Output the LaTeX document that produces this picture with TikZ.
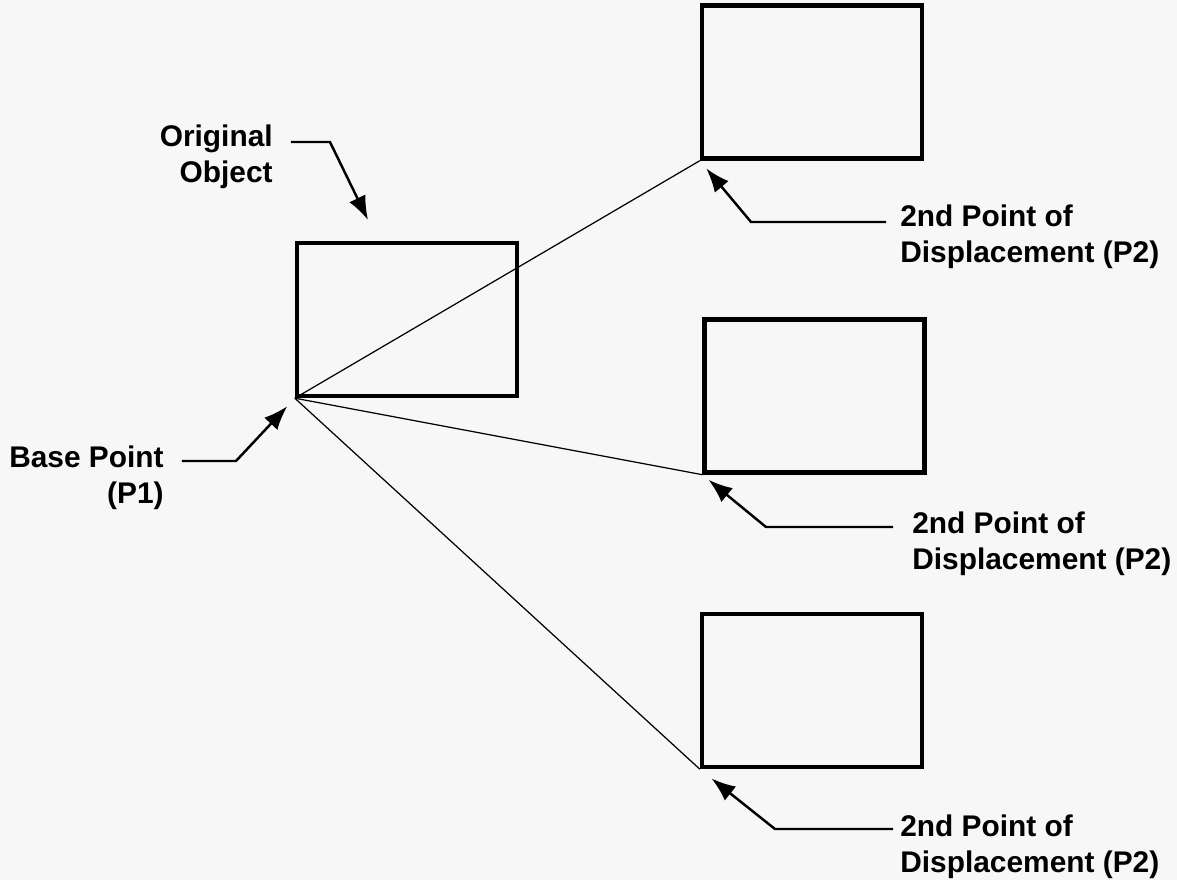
\documentclass[tikz,border=0pt]{standalone}
\usepackage{fontspec}
\setmainfont{Liberation Sans}
\usetikzlibrary{arrows.meta}

\begin{document}
\begin{tikzpicture}[x=0.02cm, y=-0.02cm,
    caja/.style={draw, line width=2.5pt, minimum width=4.4cm, minimum height=3.06cm, inner sep=0pt},
    rotulo/.style={font=\bfseries\fontsize{17}{20.5}\selectfont, inner sep=0pt},
    guia/.style={line width=1.4pt, arrows=-{Latex[length=0.48cm, width=0.36cm]}},
    rayo/.style={line width=0.7pt}]
  \fill [gray!6] (0,0) rectangle (1177,880); % fondo
  \node [caja] (orig) at (407,319.5) {}; % objeto original
  \node [caja] (copia1) at (812,82) {}; % copias desplazadas
  \node [caja] (copia2) at (814.5,396) {};
  \node [caja] (copia3) at (812,690.5) {};
  \foreach \c in {copia1,copia2,copia3}
    \draw [rayo] (orig.south west) -- (\c.south west); % P1 -> P2
  \node [rotulo, align=right, anchor=east] (oo) at (273,157) {Original\\Object};
  \node [rotulo, align=right, anchor=east] (bp) at (164,478) {Base Point\\(P1)};
  \node [rotulo, align=left, anchor=west] (p2a) at (900,237) {2nd Point of\\Displacement (P2)};
  \node [rotulo, align=left, anchor=west] (p2b) at (912,544) {2nd Point of\\Displacement (P2)};
  \node [rotulo, align=left, anchor=west] (p2c) at (900,847) {2nd Point of\\Displacement (P2)};
  \coordinate (flechaoo) at (368,220);
  \draw [guia] ([xshift=0.36cm, yshift=0.3cm]oo.east) -- ++(39,0) -- (flechaoo); % objeto
  \draw [guia, shorten >=0.22cm] ([xshift=0.36cm, yshift=0.34cm]bp.east) -- ++(54,0) -- (orig.south west); % P1
  \draw [guia, shorten >=0.2cm] ([xshift=-0.28cm, yshift=0.3cm]p2a.west) -- ++(-135,0) -- (copia1.south west);
  \draw [guia, shorten >=0.16cm] ([xshift=-0.38cm, yshift=0.34cm]p2b.west) -- ++(-127,0) -- (copia2.south west);
  \draw [guia, shorten >=0.3cm] ([xshift=-0.14cm, yshift=0.36cm]p2c.west) -- ++(-118,0) -- (copia3.south west);
\end{tikzpicture}
\end{document}
